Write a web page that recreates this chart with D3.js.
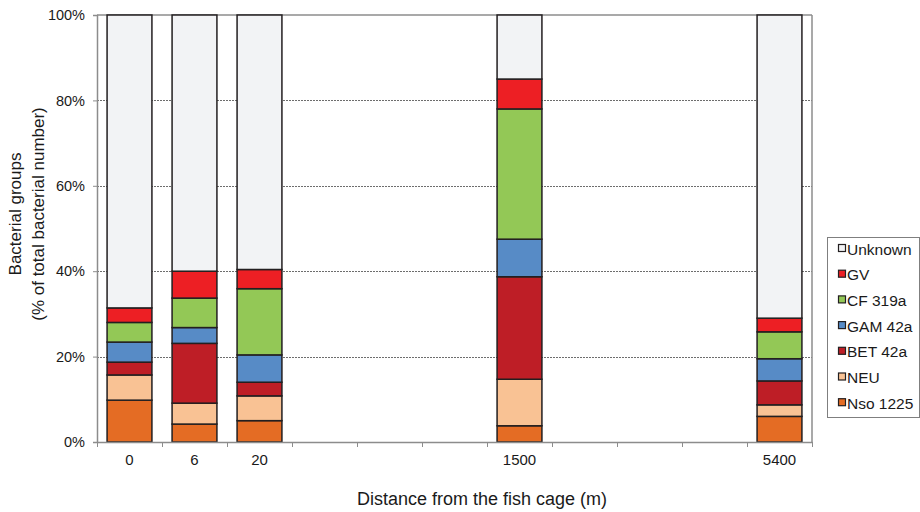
<!DOCTYPE html>
<html>
<head>
<meta charset="utf-8">
<script src="https://cdn.jsdelivr.net/npm/d3@7"></script>
<style>
  body { margin: 0; background: #fff; }
  svg { font-family: "Liberation Sans", Arial, sans-serif; }
</style>
</head>
<body>
<div id="chart"></div>
<script>
// x slots of the category axis (empty ones are blank categories)
var slots = ["0", "6", "20", "", "", "", "1500", "", "", "", "5400"];
var distances = ["0", "6", "20", "1500", "5400"];

// % of total bacterial number, one value per distance
var nso1225 = [9.8, 4.2, 5.0, 3.8, 6.0];
var neu     = [5.9, 4.9, 5.8, 10.9, 2.7];
var bet42a  = [3.0, 14.0, 3.2, 24.0, 5.6];
var gam42a  = [4.7, 3.7, 6.4, 8.8, 5.2];
var cf319a  = [4.6, 6.9, 15.5, 30.5, 6.3];
var gv      = [3.4, 6.3, 4.5, 7.0, 3.2];
var unknown = [68.6, 60.0, 59.6, 15.0, 71.0];

var seriesNames = ["Nso 1225", "NEU", "BET 42a", "GAM 42a", "CF 319a", "GV", "Unknown"];
var seriesValues = [nso1225, neu, bet42a, gam42a, cf319a, gv, unknown];
var seriesColors = ["#e46c24", "#f9c294", "#be1e26", "#578bc6", "#93c856", "#ed1f24", "#f2f3f5"];
var yTicks = [0, 20, 40, 60, 80, 100];

var svgWidth = 920;
var svgHeight = 512;
var plotLeft = 97, plotRight = 812, plotTop = 15, plotBottom = 442;

var svg = d3.select("#chart")
  .append("svg")
  .attr("width", svgWidth)
  .attr("height", svgHeight);

var x = d3.scaleBand()
  .domain(d3.range(slots.length))
  .range([plotLeft, plotRight])
  .paddingInner(0.31)
  .paddingOuter(0.155);

var y = d3.scaleLinear()
  .domain([0, 100])
  .range([plotBottom, plotTop]);

// table for stacking
var table = distances.map(function(d, i) {
  var row = { dist: d, slot: slots.indexOf(d) };
  seriesNames.forEach(function(s, j) { row[s] = seriesValues[j][i]; });
  return row;
});
var stacked = d3.stack().keys(seriesNames)(table);

// gridlines
svg.append("g")
  .selectAll("line")
  .data(yTicks.filter(function(t) { return t > 0 && t < 100; }))
  .enter()
  .append("line")
  .attr("x1", plotLeft)
  .attr("x2", plotRight)
  .attr("y1", function(d) { return Math.round(y(d)) + 0.5; })
  .attr("y2", function(d) { return Math.round(y(d)) + 0.5; })
  .attr("stroke", "#6d6d6d")
  .attr("stroke-width", 1)
  .attr("stroke-dasharray", "2,1");

// frame top and right
svg.append("line")
  .attr("x1", plotLeft).attr("x2", plotRight)
  .attr("y1", plotTop).attr("y2", plotTop)
  .attr("stroke", "#8c8c8c").attr("stroke-width", 1.5);
svg.append("line")
  .attr("x1", plotRight).attr("x2", plotRight)
  .attr("y1", plotTop).attr("y2", plotBottom)
  .attr("stroke", "#8c8c8c").attr("stroke-width", 1.5);

// bars
svg.append("g")
  .selectAll("g")
  .data(stacked)
  .enter()
  .append("g")
  .attr("fill", function(d, i) { return seriesColors[i]; })
  .selectAll("rect")
  .data(function(d) { return d; })
  .enter()
  .append("rect")
  .attr("x", function(d) { return x(d.data.slot); })
  .attr("y", function(d) { return y(d[1]); })
  .attr("width", x.bandwidth())
  .attr("height", function(d) { return y(d[0]) - y(d[1]); })
  .attr("stroke", "#231f20")
  .attr("stroke-width", 1.5);

// y axis
var yAxis = svg.append("g")
  .attr("transform", "translate(" + plotLeft + ",0)")
  .call(d3.axisLeft(y).tickValues(yTicks).tickSize(4).tickPadding(8)
    .tickFormat(function(d) { return d + "%"; }));
yAxis.select(".domain").attr("stroke", "#8c8c8c").attr("stroke-width", 1.5);
yAxis.selectAll(".tick line").attr("stroke", "#8c8c8c");
yAxis.selectAll("text")
  .attr("font-size", "14.5px")
  .attr("fill", "#1a1a1a")
  .attr("font-family", "Liberation Sans, Arial, sans-serif");

// x axis
var xAxis = svg.append("g")
  .attr("transform", "translate(0," + plotBottom + ")")
  .call(d3.axisBottom(x).tickSize(0).tickPadding(12)
    .tickFormat(function(i) { return slots[i]; }));
xAxis.select(".domain").attr("stroke", "#8c8c8c").attr("stroke-width", 1.5);
xAxis.selectAll("text")
  .attr("font-size", "15px")
  .attr("fill", "#1a1a1a")
  .attr("font-family", "Liberation Sans, Arial, sans-serif");

// x tick marks on slot boundaries
svg.append("g")
  .selectAll("line")
  .data(d3.range(slots.length + 1))
  .enter()
  .append("line")
  .attr("x1", function(i) { return Math.round(plotLeft + i * x.step()) + 0.5; })
  .attr("x2", function(i) { return Math.round(plotLeft + i * x.step()) + 0.5; })
  .attr("y1", plotBottom)
  .attr("y2", plotBottom + 5)
  .attr("stroke", "#8c8c8c");

// axis titles
svg.append("text")
  .attr("x", 482)
  .attr("y", 505)
  .attr("text-anchor", "middle")
  .attr("font-size", "18px")
  .attr("fill", "#1a1a1a")
  .text("Distance from the fish cage (m)");

var yTitle = svg.append("text")
  .attr("transform", "translate(0,214) rotate(-90)")
  .attr("text-anchor", "middle")
  .attr("font-size", "17px")
  .attr("fill", "#1a1a1a");
yTitle.append("tspan").attr("x", 0).attr("y", 21).text("Bacterial groups");
yTitle.append("tspan").attr("x", 0).attr("y", 44).text("(% of total bacterial number)");

// legend
var legend = svg.append("g").attr("transform", "translate(827,237)");
legend.append("rect")
  .attr("x", 0.5).attr("y", 0.5)
  .attr("width", 92).attr("height", 180)
  .attr("fill", "#fff")
  .attr("stroke", "#7f7f7f");

var items = legend.selectAll("g.item")
  .data(seriesNames.slice().reverse())
  .enter()
  .append("g")
  .attr("class", "item")
  .attr("transform", function(d, i) { return "translate(0," + (12 + i * 25.7) + ")"; });

items.append("rect")
  .attr("x", 11.5).attr("y", -4.5)
  .attr("width", 7).attr("height", 7)
  .attr("fill", function(d) { return seriesColors[seriesNames.indexOf(d)]; })
  .attr("stroke", "#231f20")
  .attr("stroke-width", 1.2);

items.append("text")
  .attr("x", 20)
  .attr("y", 5.5)
  .attr("font-size", "15.5px")
  .attr("fill", "#1a1a1a")
  .text(function(d) { return d; });
</script>
</body>
</html>
